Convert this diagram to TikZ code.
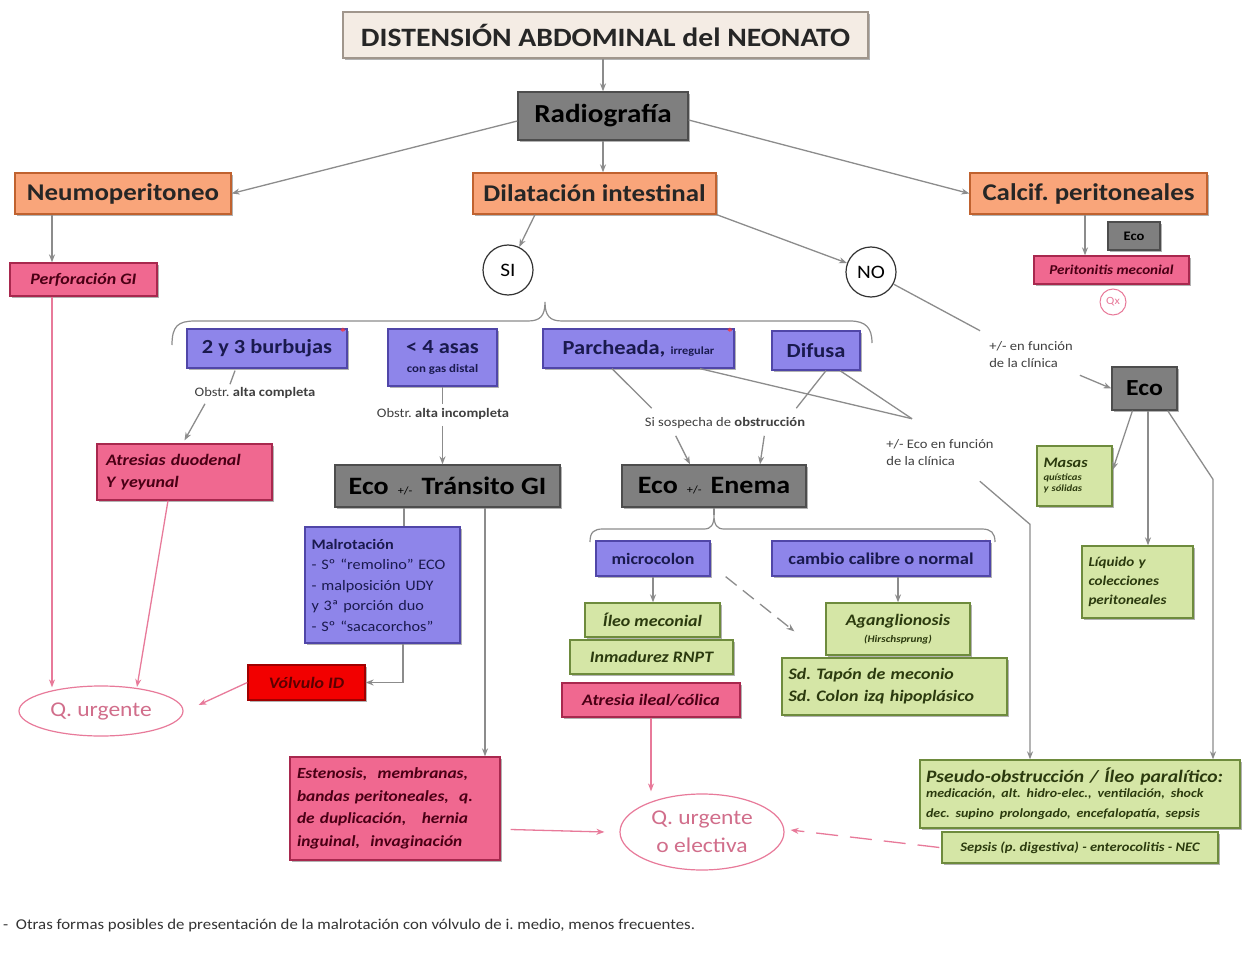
\documentclass[tikz,border=0pt]{standalone}
\usepackage{fontspec}
\setmainfont{Carlito}[FakeStretch=1.12]
\usetikzlibrary{shadows,arrows.meta,shapes.geometric,calc}
\definecolor{orF}{HTML}{F9A57A}\definecolor{orD}{HTML}{C0622F}
\definecolor{grF}{HTML}{7F7F7F}\definecolor{grD}{HTML}{4D4D4D}
\definecolor{puF}{HTML}{8E85EA}\definecolor{puD}{HTML}{5046A8}\definecolor{puT}{HTML}{1A1A4E}
\definecolor{piF}{HTML}{F06890}\definecolor{piD}{HTML}{A8284E}\definecolor{piT}{HTML}{4A0015}
\definecolor{gnF}{HTML}{D5E6A6}\definecolor{gnD}{HTML}{6E8B3D}\definecolor{gnT}{HTML}{2B3A0E}
\definecolor{rdF}{HTML}{F20000}\definecolor{rdD}{HTML}{A00000}\definecolor{rdT}{HTML}{5A0000}
\definecolor{bgF}{HTML}{F4ECE4}\definecolor{bgD}{HTML}{A0968C}
\definecolor{pkL}{HTML}{E87A9A}\definecolor{gyL}{HTML}{8C8C8C}
\begin{document}
\frenchspacing
\begin{tikzpicture}[x=1pt,y=-1pt,
  bx/.style={rectangle, draw, line width=1.3pt, inner sep=2pt, align=center,
    drop shadow={shadow xshift=2pt, shadow yshift=-2pt, opacity=.3, fill=black}},
  orbox/.style={bx, fill=orF, draw=orD, font=\fontsize{24}{27}\selectfont\bfseries, text=black!85},
  grbox/.style={bx, fill=grF, draw=grD, font=\fontsize{25}{28}\selectfont\bfseries, text=black},
  pubox/.style={bx, fill=puF, draw=puD, font=\fontsize{20}{22}\selectfont\bfseries, text=puT},
  pibox/.style={bx, fill=piF, draw=piD, font=\fontsize{16}{22}\selectfont\bfseries\itshape, text=piT},
  gnbox/.style={bx, fill=gnF, draw=gnD, font=\fontsize{16}{22}\selectfont\bfseries\itshape, text=gnT},
  rdbox/.style={bx, fill=rdF, draw=rdD, font=\fontsize{16}{18}\selectfont\bfseries\itshape, text=rdT},
  circ/.style={circle, draw=black!80, line width=1.2pt, minimum size=50pt, inner sep=0pt, font=\fontsize{19}{21}\selectfont},
  qell/.style={ellipse, draw=pkL, line width=1.2pt, inner sep=0pt, text=pkL!90!black, font=\fontsize{21}{25}\selectfont},
  lbl/.style={font=\fontsize{13}{17}\selectfont, text=black!75, inner sep=1pt, align=left},
  ln/.style={draw=gyL, line width=1.3pt},
  arr/.style={ln, -{Stealth[length=8pt,width=6pt]}},
  parr/.style={draw=pkL, line width=1.3pt, -{Stealth[length=8pt,width=6pt]}},
  star/.style={text=red!80!white, font=\fontsize{13}{13}\selectfont\bfseries, inner sep=0pt}
]
\useasboundingbox[fill=white] (0,0) rectangle (1243,960);

% ---- top level
\node[bx, fill=bgF, draw=bgD, minimum width=525pt, minimum height=46pt, font=\fontsize{26.5}{29}\selectfont\bfseries, text=black!85] (title) at (605.5,35) {DISTENSIÓN ABDOMINAL del NEONATO};
\node[grbox, minimum width=170pt, minimum height=48pt, font=\fontsize{26}{29}\selectfont\bfseries] (radio) at (603,116) {Radiografía};
\node[orbox, minimum width=216pt, minimum height=41pt] (neumo) at (123,193.5) {Neumoperitoneo};
\node[orbox, minimum width=243pt, minimum height=41pt] (dilat) at (594.5,193.5) {Dilatación intestinal};
\node[orbox, minimum width=237pt, minimum height=41pt] (calcif) at (1088.5,193.5) {Calcif. peritoneales};

% ---- right top
\node[grbox, minimum width=52pt, minimum height=28pt, font=\fontsize{13}{14}\selectfont\bfseries] (ecoS) at (1134,236) {Eco};
\node[pibox, minimum width=155pt, minimum height=28pt, font=\fontsize{13.5}{15}\selectfont\bfseries\itshape] (perit) at (1111.5,270) {Peritonitis meconial};
\node[circle, draw=pkL, line width=1pt, minimum size=26pt, inner sep=0pt, text=pkL, font=\fontsize{11}{12}\selectfont] (qx) at (1113,302) {Qx};

% ---- left
\node[pibox, minimum width=147pt, minimum height=33pt, font=\fontsize{16}{18}\selectfont\bfseries\itshape] (perf) at (83.5,279.5) {Perforación GI};
\node[circ] (si) at (508,270) {SI};
\node[circ] (no) at (871,272) {NO};

% ---- purple row
\node[pubox, minimum width=160pt, minimum height=39pt] (burb) at (267,348.5) {2 y 3 burbujas};
\node[pubox, minimum width=109pt, minimum height=57pt, align=center] (asas) at (442.5,357.5) {{\fontsize{20}{22}\selectfont < 4 asas}\\[-3pt]{\fontsize{11.5}{13}\selectfont con gas distal}};
\node[pubox, minimum width=191pt, minimum height=39pt] (parch) at (638.5,348.5) {Parcheada, {\fontsize{11}{12}\selectfont irregular}};
\node[pubox, minimum width=88pt, minimum height=39pt] (difusa) at (816,350.5) {Difusa};
\node[star] (st1) at (343,333) {*};
\node[star] (st2) at (730,333) {*};
\node[star] (st3) at (986,545) {*};

% ---- labels
\node[lbl] (lblObA) at (255,393) {Obstr. \textbf{alta completa}};
\node[lbl] (lblObB) at (443,414) {Obstr. \textbf{alta incompleta}};
\node[lbl] (lblSosp) at (725,423) {Si sospecha de \textbf{obstrucción}};
\node[lbl] (lblNo) at (1031,355) {+/- en función\\de la clínica};
\node[lbl] (lblEco) at (940,453) {+/- Eco en función\\de la clínica};

% ---- second row
\node[pibox, minimum width=175pt, minimum height=56pt, align=left, text width=157pt] (atres) at (184.5,472) {Atresias duodenal\\Y yeyunal};
\node[grbox, minimum width=225pt, minimum height=42pt] (ecoTr) at (447.5,486) {Eco {\fontsize{11}{12}\selectfont\mdseries\ +/-\ } Tránsito GI};
\node[grbox, minimum width=184pt, minimum height=42pt] (ecoEn) at (714,486) {Eco {\fontsize{11}{12}\selectfont\mdseries\ +/-\ } Enema};
\node[grbox, minimum width=65pt, minimum height=43pt, font=\fontsize{23}{26}\selectfont\bfseries] (ecoR) at (1144.5,388.5) {Eco};
\node[gnbox, minimum width=75pt, minimum height=60pt, align=left, text width=62pt, font=\fontsize{9.5}{11}\selectfont\bfseries\itshape] (masas) at (1074.5,476) {{\fontsize{14.5}{16}\selectfont Masas}\\[2pt]quísticas\\y sólidas};
\node[gnbox, minimum width=111pt, minimum height=72pt, align=left, text width=98pt, font=\fontsize{13.5}{19}\selectfont\bfseries\itshape] (liq) at (1137.5,582) {Líquido y\\colecciones\\peritoneales};

% ---- malrotation
\node[pubox, minimum width=155pt, minimum height=116pt, align=left, text width=142pt, font=\fontsize{14.5}{20.5}\selectfont\mdseries] (malrot) at (382.5,585) {\textbf{Malrotación}\\- Sº ``remolino'' ECO\\- malposición UDY\\y 3ª porción duo\\- Sº ``sacacorchos''};
\node[rdbox, minimum width=117pt, minimum height=35pt] (volv) at (306.5,682.5) {Vólvulo ID};
\node[qell, minimum width=164pt, minimum height=50pt] (qurg) at (101,711) {Q. urgente};

% ---- enema branch
\node[pubox, minimum width=114pt, minimum height=35pt, font=\fontsize{16}{18}\selectfont\bfseries] (micro) at (653,558.5) {microcolon};
\node[pubox, minimum width=218pt, minimum height=35pt, font=\fontsize{16.5}{18}\selectfont\bfseries] (cambio) at (881,558.5) {cambio calibre o normal};
\node[gnbox, minimum width=135pt, minimum height=34pt] (ileo) at (652.5,620) {Íleo meconial};
\node[gnbox, minimum width=163pt, minimum height=34pt] (inmad) at (651.5,657) {Inmadurez RNPT};
\node[pibox, minimum width=178pt, minimum height=34pt] (atrIl) at (651,700) {Atresia ileal/cólica};
\node[gnbox, minimum width=144pt, minimum height=52pt, align=center] (agang) at (898,629) {Aganglionosis\\[-5pt]{\fontsize{10}{12}\selectfont (Hirschsprung)}};
\node[gnbox, minimum width=225pt, minimum height=57pt, align=left, text width=212pt] (sdtap) at (894.5,686.5) {Sd. Tapón de meconio\\Sd. Colon izq hipoplásico};

% ---- bottom
\node[pibox, minimum width=210pt, minimum height=103pt, align=left, text width=196pt, font=\fontsize{15.5}{22.5}\selectfont\bfseries\itshape] (esten) at (395,808.5) {Estenosis,\ \ membranas,\\bandas peritoneales,\ \ q.\\de duplicación,\ \ \ hernia\\inguinal,\ \ invaginación};
\node[qell, minimum width=164pt, minimum height=76pt, align=center, font=\fontsize{21}{28}\selectfont] (qurgE) at (702,832) {Q. urgente\\o electiva};
\node[gnbox, minimum width=320pt, minimum height=68pt, align=left, text width=308pt, font=\fontsize{17.5}{20}\selectfont\bfseries\itshape] (pseudo) at (1080,794) {Pseudo-obstrucción / Íleo paralítico:\\[-1pt]{\fontsize{12.5}{16}\selectfont medicación, alt. hidro-elec., ventilación, shock\\dec. supino prolongado, encefalopatía, sepsis}};
\node[gnbox, minimum width=276pt, minimum height=31pt, font=\fontsize{13}{15}\selectfont\bfseries\itshape] (sepsis) at (1080,847.5) {Sepsis (p. digestiva) - enterocolitis - NEC};

\node[anchor=west, font=\fontsize{15}{17}\selectfont, text=black!80, inner sep=0pt] (foot) at (3,925) {-\ \ Otras formas posibles de presentación de la malrotación con vólvulo de i. medio, menos frecuentes.};

% ---- braces
\draw[ln, line width=1.2pt] (172,345) .. controls (172,326) and (178,321) .. (195,321) -- (528,321) .. controls (540,321) and (545,316) .. (545,302) .. controls (545,316) and (550,321) .. (562,321) -- (850,321) .. controls (866,321) and (872,328) .. (872,343);
\coordinate (tipB) at (714,515);
\draw[ln, line width=1.2pt] (590,542) .. controls (590,532) and (594,529) .. (603,529) -- (704,529) .. controls (711,529) and (714,525) .. (tipB) .. controls (714,525) and (717,529) .. (724,529) -- (982,529) .. controls (991,529) and (995,533) .. (995,542);

% ---- connectors
\draw[arr] (radio.north |- title.south) -- (radio.north);
\draw[arr] (radio.south) -- (radio.south |- dilat.north);
\draw[arr] ($(radio.west)+(0,5)$) -- (neumo.east);
\draw[arr] ($(radio.east)+(0,4)$) -- (calcif.west);
\coordinate (nx) at ($(perf.north)+(-31.5,0)$);
\draw[arr] (nx |- neumo.south) -- (nx);
\coordinate (px) at ($(perf.south)+(-31.5,0)$);
\draw[parr] (px) -- ($(px |- qurg.north)+(0,2)$);
\draw[parr] ($(atres.south)+(-16.5,0)$) -- ($(qurg.center)+(36,-24)$);
\draw[parr] (volv.west) -- ($(qurg.east)+(15,-6)$);
\draw[arr] ($(malrot.south)+(20.5,0)$) |- (volv.east);
\draw[ln] ($(ecoTr.south)+(-43.5,0)$) -- ($(malrot.north)+(21.5,0)$);
\coordinate (tx) at ($(ecoTr.south)+(37.5,0)$);
\draw[arr] (tx) -- (tx |- esten.north);
\draw[parr] ($(esten.east)+(10,21)$) -- ($(qurgE.west)+(-15,0)$);
\draw[parr] (atrIl.south) -- ($(atrIl.south |- qurgE.north)+(0,-2)$);
\draw[parr, dash pattern=on 22pt off 12pt] ($(sepsis.west)+(-2,0)$) -- ($(qurgE.east)+(6,-2)$);

\draw[arr] ($(dilat.south)+(-59.5,0)$) -- (si);
\draw[arr] (dilat.south east) -- (no);
\draw[ln] (no) -- ($(lblNo.north west)+(-8,-10)$);
\draw[arr] ($(lblNo.south east)+(6,6)$) -- (ecoR.west);

\coordinate (cx) at ($(calcif.south)+(-3.5,0)$);
\draw[arr] (cx) -- (cx |- perit.north);

\draw[ln] ($(burb.south)+(-32,2)$) -- ($(lblObA.north)+(-25,-2)$);
\draw[arr] ($(lblObA.south)+(-50,4)$) -- ($(atres.north)+(0,-3)$);
\draw[ln] (asas.south) -- ($(asas.south |- lblObB.north)+(0,-3)$);
\draw[arr] ($(asas.south |- lblObB.south)+(0,5)$) -- (asas.south |- ecoTr.north);

\draw[ln] ($(parch.south)+(-26.5,0)$) -- ($(lblSosp.north west)+(8,-8)$);
\draw[arr] ($(lblSosp.south west)+(32,6)$) -- ($(ecoEn.north)+(-24,0)$);
\draw[ln] ($(difusa.south)+(10,0)$) -- ($(lblSosp.north east)+(-10,-8)$);
\draw[arr] ($(lblSosp.south east)+(-42,6)$) -- ($(ecoEn.north)+(46,0)$);

\coordinate (conv) at ($(lblEco.north)+(-28,-20)$);
\draw[ln] ($(parch.south)+(61.5,0)$) -- (conv);
\draw[ln] ($(difusa.south)+(24,0)$) -- (conv);
\coordinate (pq) at ($(pseudo.north)+(-50,0)$);
\draw[arr] ($(lblEco.south east)+(-15,14)$) -- ($(pq)+(0,-235)$) -- (pq);

\draw[arr] ($(ecoR.south)+(-12,0)$) -- ($(masas.east)+(0,-6)$);
\coordinate (e3) at ($(ecoR.south)+(3.5,0)$);
\draw[arr] (e3) -- (e3 |- liq.north);
\coordinate (p2) at ($(pseudo.north)+(133,0)$);
\draw[arr] ($(ecoR.south east)+(-10,0)$) -- ($(p2)+(0,-280)$) -- (p2);

\draw[ln] (ecoEn.south) -- (tipB);
\draw[arr] (micro.south) -- (micro.south |- ileo.north);
\draw[arr] (agang.north |- cambio.south) -- (agang.north);
\draw[arr, dash pattern=on 14pt off 8pt] ($(micro.south east)+(15,0)$) -- ($(sdtap.north west)+(13,-26)$);
\end{tikzpicture}
\end{document}
